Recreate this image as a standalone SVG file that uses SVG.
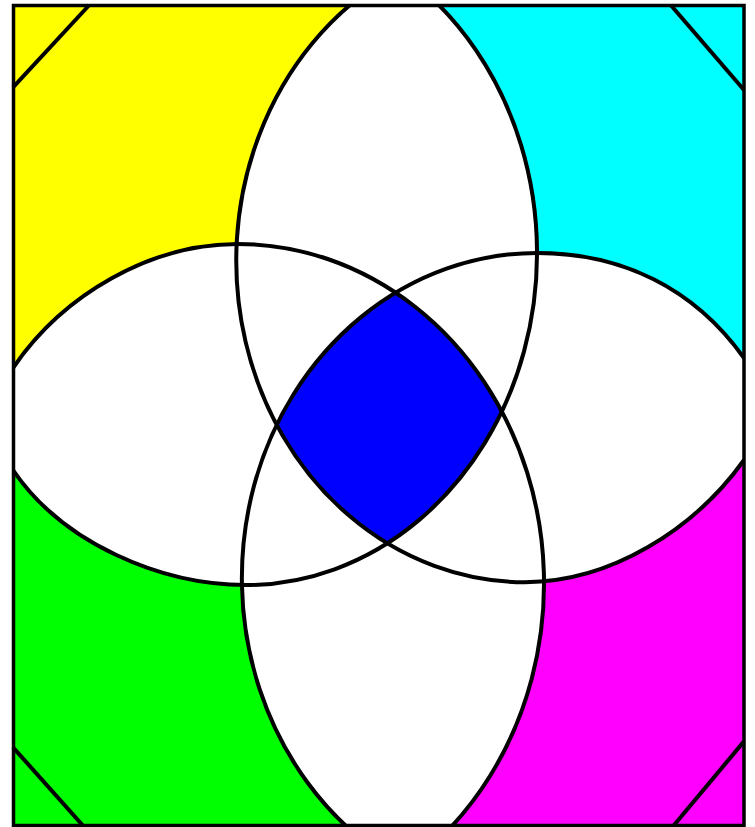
<svg xmlns="http://www.w3.org/2000/svg" width="755" height="827" viewBox="0 0 755 827">
<style>
.edge{fill:none;stroke:#000;stroke-width:4}
.line{fill:none;stroke:#000;stroke-width:4;stroke-linecap:butt}
</style>
<defs>
<path id="eTL" d="M 410.7,-20 A 291 331.6 0 0 1 246,585 C 161,585 63,543.5 13,470 L -20,421.5 L -20,-20 Z"/>
<path id="eTR" d="M 384.3,-20 A 288.9 321.5 0 0 0 525.1,582.2 C 610,582.2 694,530 744,460 L 775,416.6 L 775,-20 Z"/>
<path id="eBR" d="M 375.2,850 A 295.1 325.1 0 0 1 537,253 C 622,253 694,288 744,358 L 775,401.4 L 775,850 Z"/>
<path id="eBL" d="M -20,416.5 L 13,368 C 63.6,293.6 152,243.9 237.3,243.9 A 306.75 339.6 0 0 1 427.4,850 L -20,850 Z"/>
<clipPath id="cTL"><use href="#eTL"/></clipPath>
<clipPath id="cTR"><use href="#eTR"/></clipPath>
<clipPath id="cBR"><use href="#eBR"/></clipPath>
<clipPath id="cBL"><use href="#eBL"/></clipPath>
<clipPath id="cRect"><rect x="13.5" y="5.5" width="730.5" height="820"/></clipPath>
</defs>
<g id="fills" clip-path="url(#cRect)">
<rect x="0" y="0" width="390" height="415" fill="#ffff00"/>
<rect x="390" y="0" width="365" height="415" fill="#00ffff"/>
<rect x="0" y="415" width="390" height="412" fill="#00ff00"/>
<rect x="390" y="415" width="365" height="412" fill="#ff00ff"/>
<use href="#eTL" fill="#ffffff" clip-path="url(#cTR)"/>
<use href="#eTR" fill="#ffffff" clip-path="url(#cBR)"/>
<use href="#eBR" fill="#ffffff" clip-path="url(#cBL)"/>
<use href="#eBL" fill="#ffffff" clip-path="url(#cTL)"/>
<use href="#eTL" fill="#ffffff" clip-path="url(#cBR)"/>
<use href="#eTR" fill="#ffffff" clip-path="url(#cBL)"/>
<g clip-path="url(#cTR)"><g clip-path="url(#cBR)"><use id="center" href="#eTL" fill="#0000ff" clip-path="url(#cBL)"/></g></g>
</g>
<g id="curves" clip-path="url(#cRect)">
<use href="#eTL" class="edge"/>
<use href="#eTR" class="edge"/>
<use href="#eBR" class="edge"/>
<use href="#eBL" class="edge"/>
</g>
<g id="corner-lines">
<line class="line" x1="13" y1="87.3" x2="89.3" y2="5"/>
<line class="line" x1="670.7" y1="5" x2="744" y2="90"/>
<line class="line" x1="13" y1="747.3" x2="83.3" y2="826"/>
<line class="line" x1="744" y1="741.4" x2="673.3" y2="826"/>
</g>
<rect id="frame" x="13.5" y="5.5" width="730.5" height="820" fill="none" stroke="#000" stroke-width="3.5"/>
</svg>
